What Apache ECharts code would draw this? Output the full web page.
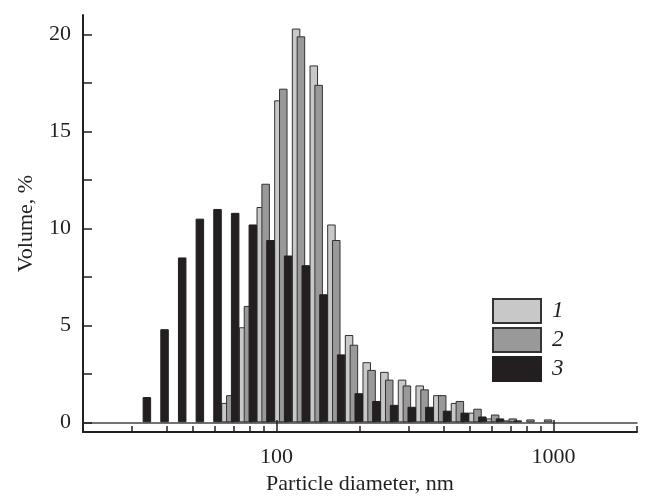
<!DOCTYPE html>
<html>
<head>
<meta charset="utf-8">
<script src="https://cdn.jsdelivr.net/npm/echarts@6/dist/echarts.min.js"></script>
<style>
html, body { margin: 0; padding: 0; background: #fff; }
#chart { width: 648px; height: 497px; }
</style>
</head>
<body>
<div id="chart"></div>
<script>
// size bins, nm
var diameters = [32.67, 37.84, 43.82, 50.75, 58.77, 68.06, 78.82, 91.28, 105.7, 122.4, 141.8, 164.2,
                 190.1, 220.2, 255.0, 295.3, 342.0, 396.1, 458.7, 531.2, 615.1, 712.4, 825.0, 955.4];
// volume, %
var sample1 = [0, 0, 0, 0, 0, 1.0, 4.9, 11.1, 16.6, 20.3, 18.4, 10.2,
               4.5, 3.1, 2.6, 2.2, 1.9, 1.4, 1.0, 0.5, 0.2, 0.1, 0, 0];
var sample2 = [0, 0, 0, 0, 0, 1.4, 6.0, 12.3, 17.2, 19.9, 17.4, 9.4,
               4.0, 2.7, 2.2, 1.9, 1.7, 1.4, 1.1, 0.7, 0.4, 0.2, 0.15, 0.15];
var sample3 = [1.3, 4.8, 8.5, 10.5, 11.0, 10.8, 10.2, 9.4, 8.6, 8.1, 6.6, 3.5,
               1.5, 1.1, 0.9, 0.8, 0.8, 0.6, 0.5, 0.3, 0.2, 0.1, 0, 0];
var seriesNames = ['1', '2', '3'];
var yLabelValues = [0, 5, 10, 15, 20];
var yTickValues = [0, 2.5, 5, 7.5, 10, 12.5, 15, 17.5, 20];
var xLabelValues = [100, 1000];
var xMinorTicks = [30, 40, 50, 60, 70, 80, 90, 200, 300, 400, 500, 600, 700, 800, 900, 2000];

var font = 'Liberation Serif';
var ink = '#231f20';

// empty bins get no bar
function pairs(vals) {
    return diameters.map(function (d, i) { return [d, vals[i] === 0 ? null : vals[i]]; });
}

// long ticks at the decades, from the frame up past the zero line
var decadeTicks = xLabelValues.map(function (v) {
    return [{ coord: [v, -0.5] }, { coord: [v, 0.12] }];
});

var dom = document.getElementById('chart');
var myChart = echarts.init(dom);

var option = {
    animation: false,
    grid: { left: 83, right: 11, top: 15, bottom: 65, outerBoundsMode: 'none', containLabel: false },
    legend: {
        orient: 'vertical',
        left: 487,
        top: 293,
        itemWidth: 48,
        itemHeight: 24,
        itemGap: 3,
        icon: 'rect',
        data: seriesNames,
        textStyle: { fontFamily: font, fontSize: 23, fontStyle: 'italic', color: ink, padding: [0, 0, 0, 6] }
    },
    xAxis: [
        {
            type: 'log', min: 20, max: 2000, position: 'bottom',
            axisLine: { onZero: false, lineStyle: { color: ink, width: 2 } },
            axisTick: { inside: true, length: 6, customValues: xMinorTicks, lineStyle: { color: ink, width: 1.5 } },
            axisLabel: {
                customValues: xLabelValues, margin: 14, fontFamily: font, fontSize: 22, color: ink,
                formatter: function (v) { return String(v); }
            },
            splitLine: { show: false },
            name: 'Particle diameter, nm',
            nameLocation: 'middle',
            nameGap: 40,
            nameTextStyle: { fontFamily: font, fontSize: 22, color: ink }
        },
        {
            // zero line
            type: 'log', min: 20, max: 2000,
            axisLine: { onZero: true, lineStyle: { color: '#444', width: 1.5 } },
            axisTick: { show: false },
            axisLabel: { show: false },
            splitLine: { show: false }
        }
    ],
    yAxis: {
        type: 'value', min: -0.5, max: 21,
        axisLine: { show: true, lineStyle: { color: ink, width: 2 } },
        axisTick: { show: true, inside: true, length: 9, customValues: yTickValues, lineStyle: { color: ink, width: 1.5 } },
        axisLabel: { customValues: yLabelValues, margin: 12, fontFamily: font, fontSize: 22, color: ink },
        splitLine: { show: false },
        name: 'Volume, %',
        nameLocation: 'middle',
        nameGap: 46,
        nameTextStyle: { fontFamily: font, fontSize: 22, color: ink }
    },
    series: [
        {
            name: '1', type: 'bar', xAxisIndex: 0,
            barWidth: 8.5, barGap: '-43%',
            itemStyle: { color: '#c8c8c8', borderColor: '#333', borderWidth: 1 },
            data: pairs(sample1)
        },
        {
            // middle bar of each group sits on the bin centre
            name: '2', type: 'bar', xAxisIndex: 0,
            barWidth: 8.5, barGap: '-43%',
            itemStyle: { color: '#999999', borderColor: '#333', borderWidth: 1 },
            data: pairs(sample2),
            markLine: {
                silent: true,
                symbol: 'none',
                label: { show: false },
                lineStyle: { color: ink, width: 1.5, type: 'solid' },
                data: decadeTicks
            }
        },
        {
            name: '3', type: 'bar', xAxisIndex: 0,
            barWidth: 8.5, barGap: '-43%',
            itemStyle: { color: ink, borderColor: ink, borderWidth: 1 },
            data: pairs(sample3)
        }
    ]
};

myChart.setOption(option, true);
</script>
</body>
</html>
